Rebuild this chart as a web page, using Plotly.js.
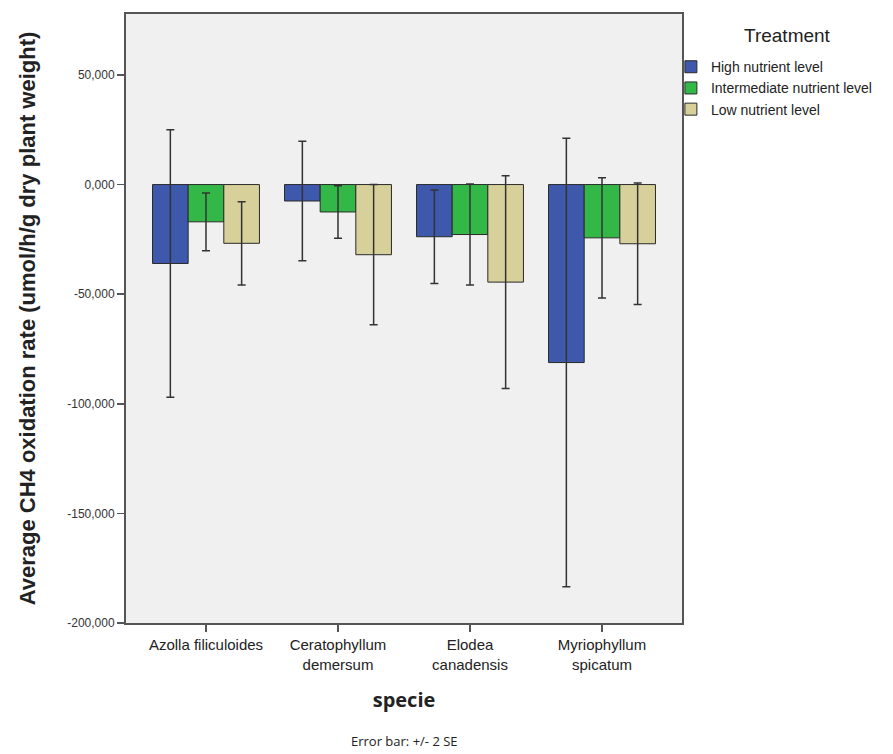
<!DOCTYPE html>
<html>
<head>
<meta charset="utf-8">
<script src="https://cdn.plot.ly/plotly-3.0.1.min.js"></script>
<style>html,body{margin:0;padding:0;background:#fff;}#chart{width:893px;height:754px;}</style>
</head>
<body>
<div id="chart"></div>
<script>
const categories = ["Azolla filiculoides", "Ceratophyllum demersum", "Elodea canadensis", "Myriophyllum spicatum"];
const tickLabels = ["Azolla filiculoides", "Ceratophyllum<br>demersum", "Elodea<br>canadensis", "Myriophyllum<br>spicatum"];
const seriesNames = ["High nutrient level", "Intermediate nutrient level", "Low nutrient level"];
const highMean = [-36.0, -7.5, -23.8, -81.2];
const highErr = [61.0, 27.3, 21.3, 102.3];
const interMean = [-17.0, -12.5, -22.8, -24.3];
const interErr = [13.2, 12.0, 23.0, 27.4];
const lowMean = [-26.8, -32.0, -44.5, -27.0];
const lowErr = [19.0, 32.0, 48.5, 27.7];
const yTickVals = [-200, -150, -100, -50, 0, 50];
const yTickLabels = ["-200,000", "-150,000", "-100,000", "-50,000", "0,000", "50,000"];
const legendTitle = "Treatment";
const colors = ["#3E58AC", "#33B848", "#D7D09A"];

const means = [highMean, interMean, lowMean];
const errs = [highErr, interErr, lowErr];

const traces = seriesNames.map((name, i) => ({
  type: 'bar',
  name: name,
  x: categories,
  y: means[i],
  marker: {color: colors[i], line: {color: '#2a2a2a', width: 1}},
  error_y: {type: 'data', array: errs[i], visible: true, color: '#333333', thickness: 1.5, width: 4}
}));

const layout = {
  width: 893, height: 754,
  margin: {l: 126, r: 211, t: 14, b: 131, autoexpand: false},
  paper_bgcolor: '#ffffff',
  plot_bgcolor: '#F0F0F0',
  barmode: 'group',
  bargap: 0.19,
  bargroupgap: 0,
  font: {family: 'Liberation Sans, Arial, sans-serif', size: 12, color: '#222'},
  xaxis: {
    type: 'category',
    tickvals: categories,
    ticktext: tickLabels,
    range: [-0.606, 3.606],
    showgrid: false, zeroline: false,
    showline: true, mirror: true, linecolor: '#555', linewidth: 2,
    ticks: 'outside', ticklen: 7, tickcolor: '#555', tickwidth: 1.5,
    tickfont: {size: 15, color: '#222'},
    title: {text: 'specie', font: {family: 'Open Sans, DejaVu Sans, sans-serif', size: 20, color: '#222', weight: 'bold'}, standoff: 21}
  },
  yaxis: {
    range: [-200, 77.8],
    tickvals: yTickVals,
    ticktext: yTickLabels,
    showgrid: false, zeroline: false,
    showline: true, mirror: true, linecolor: '#555', linewidth: 2,
    ticks: 'outside', ticklen: 7, tickcolor: '#555', tickwidth: 1.5,
    tickfont: {size: 12, color: '#333'},
    title: {text: 'Average CH4 oxidation rate (umol/h/g dry plant weight)', font: {family: 'Liberation Sans, Arial, sans-serif', size: 22, color: '#222', weight: 'bold'}, standoff: 26}
  },
  legend: {
    x: 0.98, xanchor: 'left', y: 0.939, yanchor: 'top',
    bgcolor: 'rgba(0,0,0,0)',
    font: {size: 14, color: '#222'},
    tracegroupgap: 0,
    itemwidth: 30
  },
  annotations: [{
    xref: 'paper', yref: 'paper', x: 0.5, y: 0, yshift: -118, xanchor: 'center', yanchor: 'middle',
    showarrow: false, text: 'Error bar: +/- 2 SE',
    font: {family: 'Open Sans, DejaVu Sans, sans-serif', size: 13, color: '#222'}
  }, {
    xref: 'paper', yref: 'paper', x: 1.19, y: 0.9655, xanchor: 'center', yanchor: 'middle',
    showarrow: false, text: legendTitle,
    font: {size: 19, color: '#222'}
  }],
  showlegend: true
};

Plotly.newPlot('chart', traces, layout, {displayModeBar: false, staticPlot: true});
</script>
</body>
</html>
